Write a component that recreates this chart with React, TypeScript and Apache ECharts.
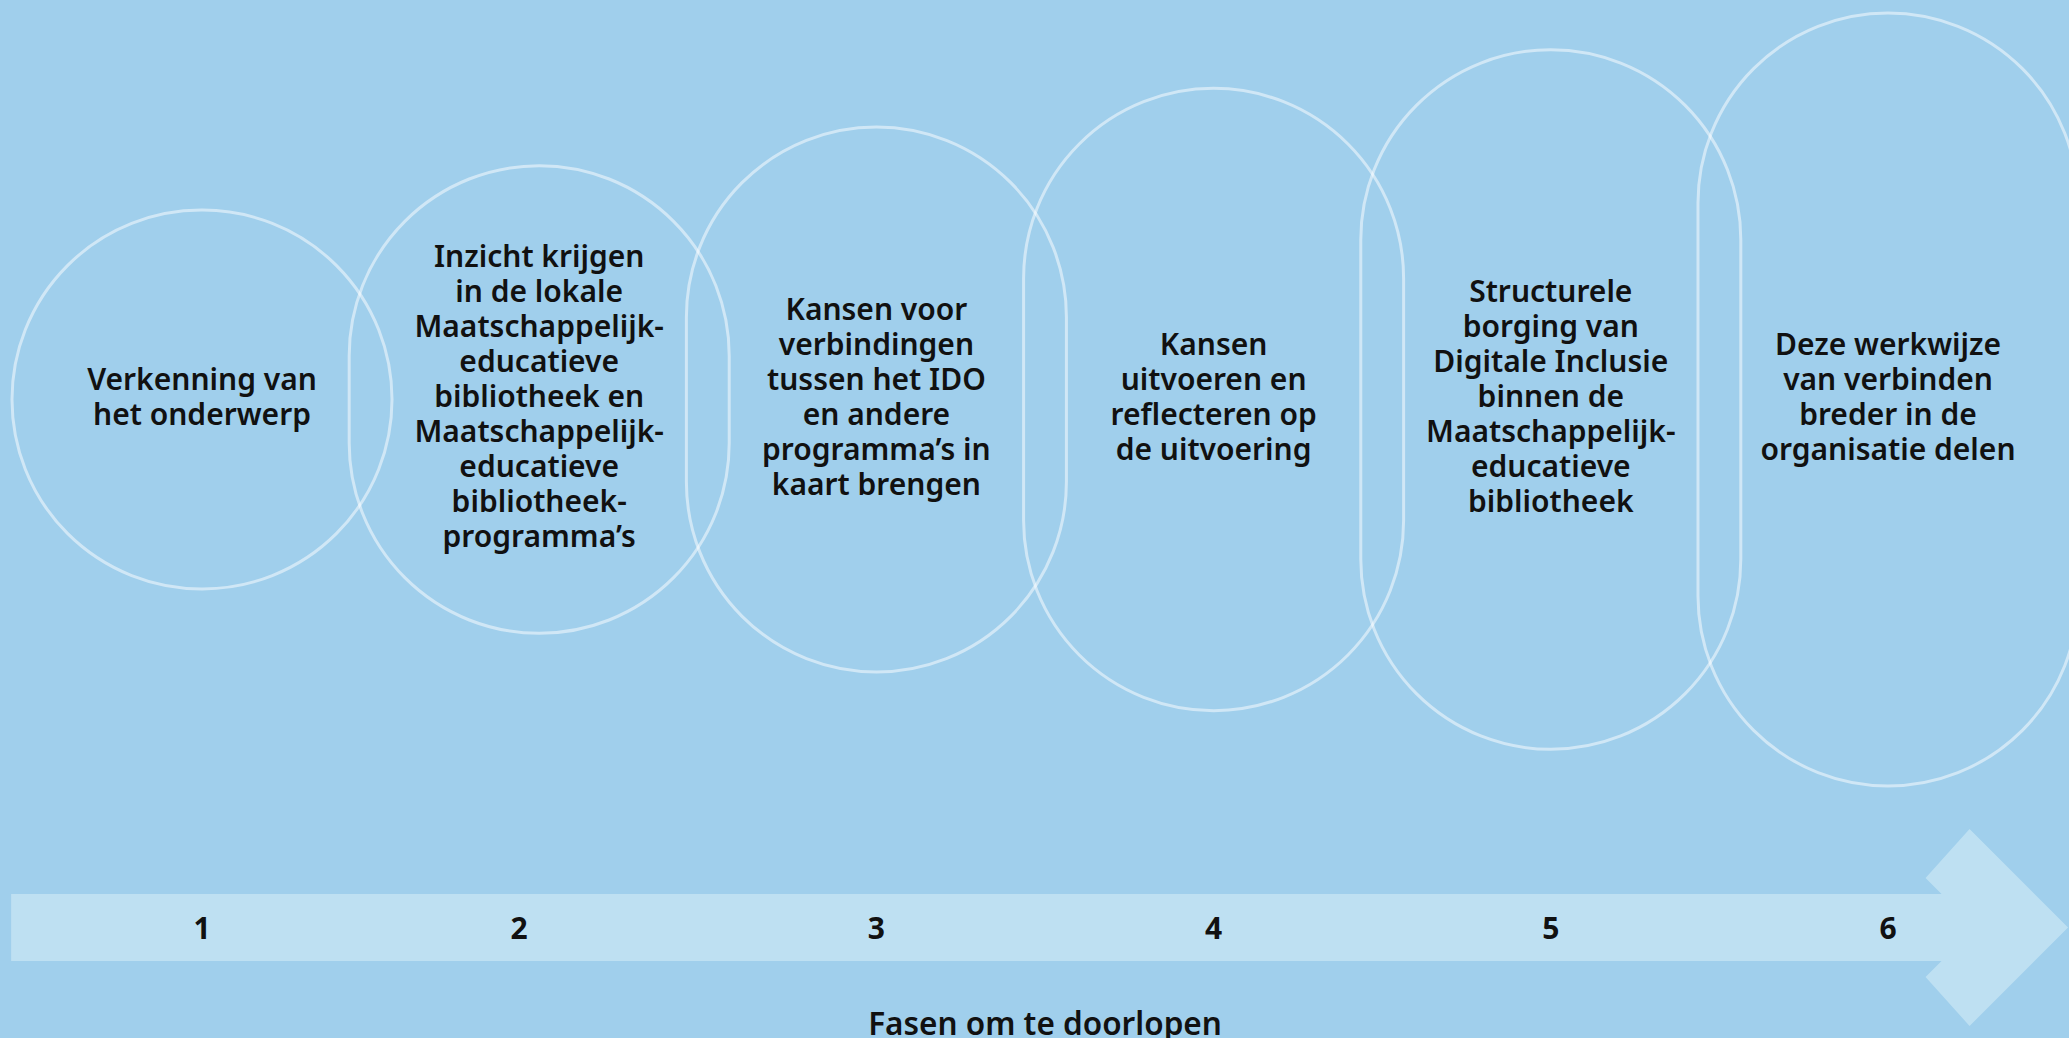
import { useEffect, useRef } from "react";
import * as echarts from "echarts";

// ---- data ----
const phaseNumbers = ["1", "2", "3", "4", "5", "6"];
const phasePositions = [1, 2, 3, 4, 5, 6];
const numberPositions = [1, 1.94, 3, 4, 5, 6];
const phaseHeights = [49, 60.5, 70.5, 80.5, 90.5, 100];
const phaseLabels = [
  "Verkenning van\nhet onderwerp",
  "Inzicht krijgen\nin de lokale\nMaatschappelijk-\neducatieve\nbibliotheek en\nMaatschappelijk-\neducatieve\nbibliotheek-\nprogramma’s",
  "Kansen voor\nverbindingen\ntussen het IDO\nen andere\nprogramma’s in\nkaart brengen",
  "Kansen\nuitvoeren en\nreflecteren op\nde uitvoering",
  "Structurele\nborging van\nDigitale Inclusie\nbinnen de\nMaatschappelijk-\neducatieve\nbibliotheek",
  "Deze werkwijze\nvan verbinden\nbreder in de\norganisatie delen",
];
const arrowSpan = [0.434, 6.534];
const arrowLevel = -18.3;
const centerLevel = 50;
const axisTitle = "Fasen om te doorlopen";

const BG = "#a0cfec";
const BAND = "#bee0f2";
const STROKE = "rgba(255,255,255,0.5)";
const FONT = "'Noto Sans', 'Open Sans', sans-serif";

export default function App() {
  const ref = useRef<HTMLDivElement>(null);
  useEffect(() => {
    if (!ref.current) return;
    const chart = echarts.init(ref.current, undefined, { renderer: "svg" });

    const shapeData = phasePositions.map((x, i) => [x, centerLevel, phaseHeights[i], i]);
    const numberData = numberPositions.map((x, i) => [x, arrowLevel, i]);

    chart.setOption({
      animation: false,
      backgroundColor: BG,
      grid: { left: 33.4, right: 12.4, top: 13, bottom: 252, containLabel: false, outerBoundsMode: "none" },
      xAxis: {
        type: "value",
        min: 0.5,
        max: 6.5,
        name: axisTitle,
        nameLocation: "middle",
        nameGap: 220,
        nameTextStyle: { fontFamily: FONT, fontSize: 31.5, fontWeight: 600, color: "#111" },
        axisLine: { show: false },
        axisTick: { show: false },
        axisLabel: { show: false },
        splitLine: { show: false },
      },
      yAxis: { type: "value", min: 0, max: 100, show: false },
      series: [
        {
          type: "custom",
          clip: false,
          silent: true,
          data: [[arrowSpan[0], arrowSpan[1], arrowLevel]],
          renderItem: (params: any, api: any) => {
            const p0 = api.coord([api.value(0), api.value(2)]);
            const p1 = api.coord([api.value(1), api.value(2)]);
            const cy = p0[1];
            const half = 33.5;
            const tipX = p1[0];
            const topY = cy - 98.5;
            const topX = tipX - 98.5;
            return {
              type: "polygon",
              shape: {
                points: [
                  [p0[0], cy - half],
                  [topX - 28, cy - half],
                  [topX - 44, cy - half - 16],
                  [topX, topY],
                  [tipX, cy],
                  [topX, cy + 98.5],
                  [topX - 44, cy + half + 16],
                  [topX - 28, cy + half],
                  [p0[0], cy + half],
                ],
              },
              style: { fill: BAND },
            };
          },
        },
        {
          type: "custom",
          clip: false,
          silent: true,
          data: shapeData,
          renderItem: (params: any, api: any) => {
            const c = api.coord([api.value(0), api.value(1)]);
            const h = api.size([0, api.value(2)])[1];
            const w = api.size([1, 0])[0] * 1.127;
            const idx = api.value(3);
            const r = Math.min(w, h) / 2;
            return {
              type: "group",
              children: [
                {
                  type: "rect",
                  shape: { x: c[0] - w / 2, y: c[1] - h / 2, width: w, height: h, r },
                  style: { fill: "none", stroke: STROKE, lineWidth: 3 },
                },
                {
                  type: "text",
                  x: c[0],
                  y: c[1] - 4,
                  style: {
                    text: phaseLabels[idx],
                    align: "center",
                    verticalAlign: "middle",
                    fontFamily: FONT,
                    fontSize: 30,
                    fontWeight: 600,
                    lineHeight: 35,
                    fill: "#111",
                  },
                },
              ],
            };
          },
        },
        {
          type: "custom",
          clip: false,
          silent: true,
          data: numberData,
          renderItem: (params: any, api: any) => {
            const c = api.coord([api.value(0), api.value(1)]);
            return {
              type: "text",
              x: c[0],
              y: c[1],
              style: {
                text: phaseNumbers[api.value(2)],
                align: "center",
                verticalAlign: "middle",
                fontFamily: FONT,
                fontSize: 30,
                fontWeight: 700,
                fill: "#111",
              },
            };
          },
        },
      ],
    });
    return () => chart.dispose();
  }, []);
  return (
    <div
      ref={ref}
      style={{ position: "absolute", left: 0, top: 0, width: 2069, height: 1038 }}
    />
  );
}
